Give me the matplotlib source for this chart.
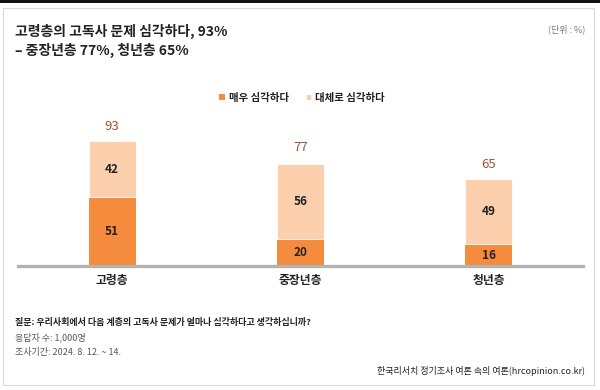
import numpy as np
import matplotlib
matplotlib.use("Agg")
import matplotlib.pyplot as plt
from matplotlib.patches import Rectangle

plt.rcParams["font.family"] = ["Noto Sans CJK KR", "DejaVu Sans"]

# 데이터
groups = ["고령층", "중장년층", "청년층"]
very = [51, 20, 16]        # 매우 심각하다
rather = [42, 56, 49]      # 대체로 심각하다
totals = [93, 77, 65]

C_VERY = "#f58b3c"
C_RATHER = "#fcd0ad"
C_TOTAL = "#9a5530"
C_TXT = "#222222"
C_MUTED = "#555555"

W, H = 600, 390
fig = plt.figure(figsize=(W / 100, H / 100), dpi=100)
fig.patch.set_facecolor("white")


def px(x, y):
    """픽셀 좌표(위에서부터) -> figure 비율"""
    return x / W, 1 - y / H


# 카드 테두리 + 상단 검은 띠
fig.patches.append(Rectangle((3 / W, 1 - 385 / H), 591 / W, 377 / H,
                             transform=fig.transFigure, facecolor="white",
                             edgecolor="#d8d8d8", linewidth=0.8, zorder=-2))
fig.patches.append(Rectangle((0, 1 - 3 / H), 1, 3 / H, transform=fig.transFigure,
                             facecolor="#111111", edgecolor="none", zorder=-1))

# 축: 기준선 y=266px, 1.344px/%
base_y = 266
ax_h = 134.4
ax = fig.add_axes([18 / W, 1 - base_y / H, 565 / W, ax_h / H])
ax.set_facecolor("none")
ax.set_zorder(3)

x = np.arange(len(groups))
bw = 0.25
b1 = ax.bar(x, very, bw, color=C_VERY, label="매우 심각하다", zorder=2)
b2 = ax.bar(x, rather, bw, bottom=very, color=C_RATHER, label="대체로 심각하다",
            edgecolor="white", linewidth=0.6, zorder=2)

for i in range(len(groups)):
    ax.text(x[i], very[i] / 2, str(very[i]), ha="center", va="center",
            fontsize=8.5, color=C_TXT, fontweight="bold")
    ax.text(x[i], very[i] + rather[i] / 2, str(rather[i]), ha="center", va="center",
            fontsize=8.5, color=C_TXT, fontweight="bold")
    ax.text(x[i], totals[i] + 6, str(totals[i]), ha="center", va="bottom",
            fontsize=9.5, color=C_TOTAL, clip_on=False, fontweight="medium")

ax.set_xlim(-0.5, 2.5)
ax.set_ylim(0, 100)
ax.set_yticks([])
ax.set_xticks(x)
ax.set_xticklabels(groups, fontsize=8.5, color=C_TXT, fontweight="bold")
ax.tick_params(axis="x", length=0, pad=6)
for s in ("top", "right", "left"):
    ax.spines[s].set_visible(False)
ax.spines["bottom"].set_color("#b3b3b3")
ax.spines["bottom"].set_linewidth(2.4)

# 범례
leg = fig.legend(handles=[b1, b2], loc="center", bbox_to_anchor=px(302, 98),
                 ncol=2, frameon=False, fontsize=7.5, handlelength=0.55,
                 handleheight=0.55, handletextpad=0.4, columnspacing=1.6)
for t in leg.get_texts():
    t.set_fontweight("bold")
    t.set_color(C_TXT)

# 제목
fig.text(*px(15, 31), "고령층의 고독사 문제 심각하다, 93%", fontsize=10,
         color=C_TXT, va="center", fontweight="bold")
fig.text(*px(15, 50), "– 중장년층 77%, 청년층 65%", fontsize=10,
         color=C_TXT, va="center", fontweight="bold")
fig.text(*px(585, 29), "(단위 : %)", fontsize=6.5, color="#777777",
         va="center", ha="right")

# 하단 주석
fig.text(*px(15, 322), "질문: 우리사회에서 다음 계층의 고독사 문제가 얼마나 심각하다고 생각하십니까?",
         fontsize=6.5, color=C_TXT, va="center", fontweight="bold")
fig.text(*px(15, 337), "응답자 수: 1,000명", fontsize=6.5, color=C_MUTED, va="center")
fig.text(*px(15, 353), "조사기간: 2024. 8. 12. ~ 14.", fontsize=6.5, color=C_MUTED,
         va="center")
fig.text(*px(585, 371), "한국리서치 정기조사 여론 속의 여론(hrcopinion.co.kr)",
         fontsize=6.5, color=C_TXT, va="center", ha="right", fontweight="medium")

fig.savefig("out.png", dpi=100)
